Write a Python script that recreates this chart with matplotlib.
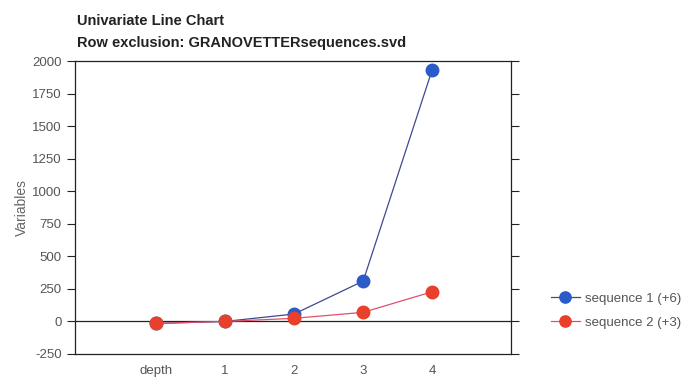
import matplotlib.pyplot as plt
import numpy as np

categories = ["depth", "1", "2", "3", "4"]
seq1 = [-15, 0, 57, 310, 1935]
seq2 = [-15, 0, 24, 70, 228]
y_ticks = [-250, 0, 250, 500, 750, 1000, 1250, 1500, 1750, 2000]

plt.rcParams['font.family'] = ['Liberation Sans', 'DejaVu Sans']
plt.rcParams['axes.unicode_minus'] = False

fig = plt.figure(figsize=(6.89, 3.78), dpi=100)
ax = fig.add_axes([0.1089, 0.0635, 0.6328, 0.775])

x = np.arange(len(categories))
ax.plot(x, seq1, color='#3d4a8f', lw=0.9, marker='o', ms=9,
        mfc='#2a5bc8', mec='#2a5bc8', label='sequence 1 (+6)', zorder=3)
ax.plot(x, seq2, color='#e0506a', lw=0.9, marker='o', ms=9,
        mfc='#e8402a', mec='#e8402a', label='sequence 2 (+3)', zorder=4)

ax.axhline(0, color='#222222', lw=0.9, zorder=1)

ax.set_xlim(-1.17, 5.14)
ax.set_ylim(-250, 2000)
ax.set_xticks(x)
ax.set_xticklabels(categories)
ax.set_yticks(y_ticks)
ax.tick_params(axis='x', length=0, pad=8, labelsize=9.5, colors='#555555')
ax.tick_params(axis='y', length=6, width=0.8, labelsize=9.5,
               colors='#222222', labelcolor='#555555', right=True, direction='out')
for s in ax.spines.values():
    s.set_linewidth(0.9)
    s.set_color('#222222')

ax.set_ylabel('Variables', color='#666666', fontsize=10, labelpad=2)

fig.text(0.112, 0.935, 'Univariate Line Chart', fontsize=10.5, fontweight='bold',
         color='#222222')
fig.text(0.112, 0.875, 'Row exclusion: GRANOVETTERsequences.svd', fontsize=10.5,
         fontweight='bold', color='#222222')

ax.legend(loc='center left', bbox_to_anchor=(1.064, 0.147), frameon=False,
          fontsize=9.5, labelcolor='#555555', handlelength=2.2,
          handletextpad=0.4, labelspacing=0.9, markerscale=0.9)

fig.savefig('out.png', dpi=100)
